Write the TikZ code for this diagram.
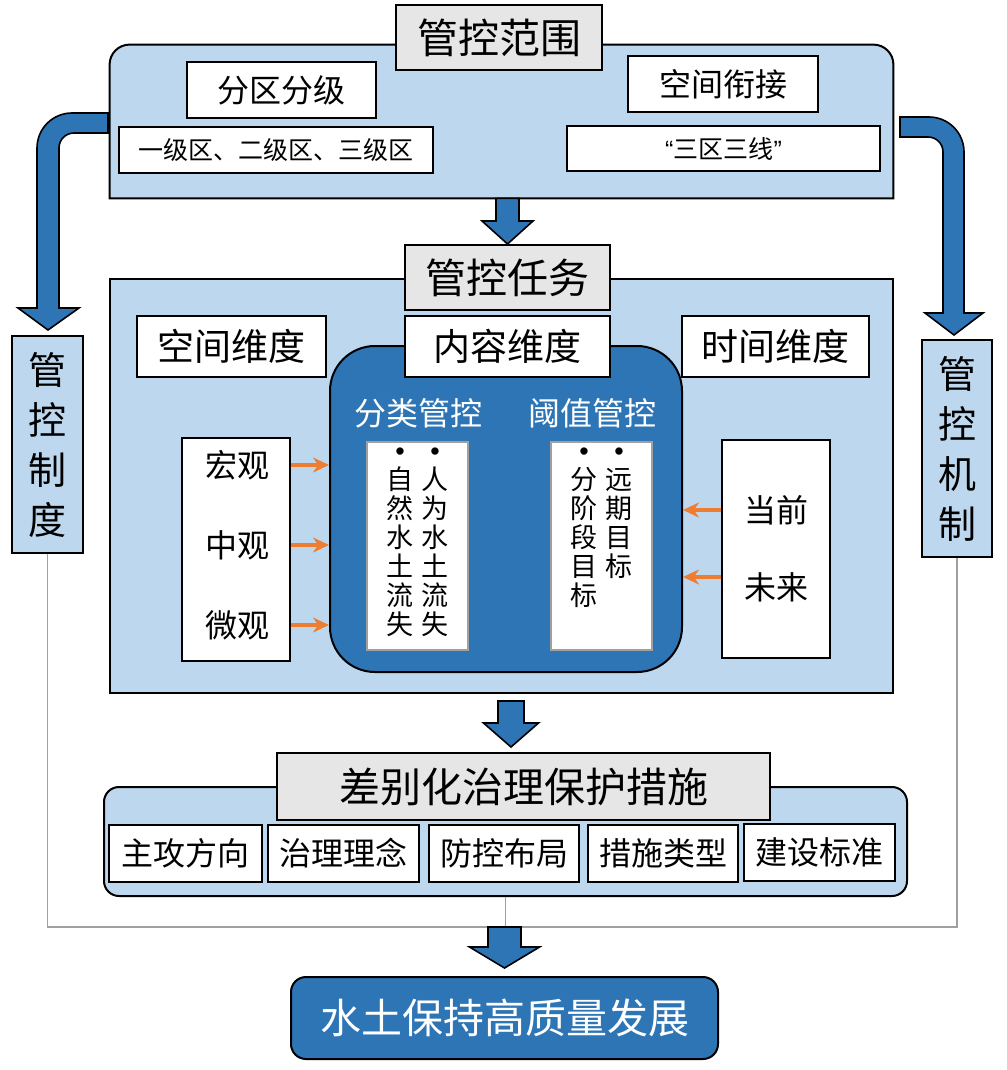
\documentclass[tikz,border=0pt]{standalone}
\usepackage{fontspec}
\setmainfont{Noto Sans CJK SC}
\newfontfamily\quotefont{Liberation Sans}
\usetikzlibrary{calc, arrows.meta}

\definecolor{paleblue}{HTML}{BDD7EE}
\definecolor{deepblue}{HTML}{2E75B6}
\definecolor{titlegray}{HTML}{E7E6E6}
\definecolor{arrowor}{HTML}{ED7D31}
\definecolor{wiregray}{HTML}{A0A0A0}

\tikzset{
	box/.style = {draw, fill = white, line width = 1pt, inner sep = 0pt},
	graybox/.style = {box, fill = titlegray},
	panel/.style = {draw, fill = paleblue, line width = 1pt},
	darkbox/.style = {draw, fill = deepblue, line width = 1pt},
	listbox/.style = {draw = wiregray, fill = white, line width = 1.2pt},
	bigarrow/.style = {draw, fill = deepblue, line width = 0.8pt},
	orarrow/.style = {draw = arrowor, line width = 2pt, -{Stealth[length = 8pt, width = 7.5pt]}},
	wire/.style = {draw = wiregray, line width = 0.8pt},
	titlefont/.style = {font = \fontsize{20.5}{24}\selectfont},
	dimfont/.style = {font = \fontsize{18.5}{22}\selectfont},
	labelfont/.style = {font = \fontsize{16}{19}\selectfont},
	notefont/.style = {font = \fontsize{12.5}{15}\selectfont},
	columnfont/.style = {font = \fontsize{13.5}{14.5}\selectfont, align = center, anchor = north, inner sep = 0pt},
	sidefont/.style = {font = \fontsize{19}{25}\selectfont, align = center}
}

\newcommand{\dotmark}{{\quotefont •}}

% #1 tail, #2 tip, #3 half shaft, #4 half head, #5 head length
\newcommand{\blockarrow}[5]{%
	\draw [bigarrow] let \p1 = #1, \p2 = #2 in (\x2 - #3, \y1) -- (\x2 - #3, \y2 + #5) -- (\x2 - #4, \y2 + #5) -- (\x2, \y2) -- (\x2 + #4, \y2 + #5) -- (\x2 + #3, \y2 + #5) -- (\x2 + #3, \y1) -- cycle;}

\begin{document}
\begin{tikzpicture}[x = 0.5pt, y = -0.5pt]

	\useasboundingbox (0, 0) rectangle (1006, 1070);

	% Control scope panel w zoning and spatial linking

	\node [minimum width = 391.5pt, minimum height = 76.5pt, inner sep = 0pt] (scope) at (501.5, 121.5) {};
	\draw [panel] (scope.south west) -- ($(scope.north west) + (0, 20)$) arc [start angle = 180, end angle = 90, radius = 10pt] -- ($(scope.north east) + (-20, 0)$) arc [start angle = 90, end angle = 0, radius = 10pt] -- (scope.south east) -- cycle;

	\node [graybox, titlefont, minimum width = 103pt, minimum height = 32.5pt] (scopetitle) at (499, 37.5) {管控范围};
	\node [box, labelfont, minimum width = 94.5pt, minimum height = 28pt] (zoning) at (281.5, 90) {分区分级};
	\node [box, notefont, minimum width = 157pt, minimum height = 23pt] (levels) at (276, 150) {一级区、二级区、三级区};
	\node [box, labelfont, minimum width = 95pt, minimum height = 28pt] (linking) at (723, 84) {空间衔接};
	\node [box, notefont, minimum width = 156.5pt, minimum height = 22.5pt] (threezones) at (723.5, 148.5) {{\quotefont “}三区三线{\quotefont ”}};

	% Bent arrows w rule and mechanism boxes

	\draw [bigarrow] (108, 113) -- (72, 113) arc [start angle = 90, end angle = 180, radius = 17.5pt] -- (37, 308) -- (18, 308) -- (48, 330) -- (79, 308) -- (59, 308) -- (59, 148) arc [start angle = 180, end angle = 90, radius = 7.5pt] -- (108, 133) -- cycle;
	\node [panel, sidefont, minimum width = 35.5pt, minimum height = 108.5pt, inner sep = 0pt] (rule) at (47.5, 444.5) {管\\控\\制\\度};

	\draw [bigarrow] (900, 117) -- (929, 117) arc [start angle = 90, end angle = 0, radius = 17.5pt] -- (964, 313) -- (983, 313) -- (954, 335) -- (925, 313) -- (943, 313) -- (943, 152) arc [start angle = 0, end angle = 90, radius = 7.5pt] -- (900, 137) -- cycle;
	\node [panel, sidefont, minimum width = 35pt, minimum height = 108.5pt, inner sep = 0pt] (mech) at (957, 448.5) {管\\控\\机\\制};

	% Control task panel w three dimensions

	\node [panel, minimum width = 391.5pt, minimum height = 207pt] (task) at (501.5, 486) {};
	\node [graybox, titlefont, minimum width = 102.5pt, minimum height = 32.5pt] (tasktitle) at (507.5, 277.5) {管控任务};
	\blockarrow{(scope.south)}{(tasktitle.north)}{5.75pt}{12.75pt}{11.5pt}

	\node [darkbox, rounded corners = 22.5pt, minimum width = 176pt, minimum height = 163pt] (content) at (506, 509) {};
	\node [box, dimfont, minimum width = 94.5pt, minimum height = 30.5pt] (spacedim) at (231.5, 346.5) {空间维度};
	\node [box, dimfont, minimum width = 102.5pt, minimum height = 30.5pt] (contentdim) at (507.5, 346.5) {内容维度};
	\node [box, dimfont, minimum width = 93.5pt, minimum height = 30.5pt] (timedim) at (775.5, 346.5) {时间维度};

	% Content classes

	\node [labelfont, text = white] (classtitle) at (418, 413) {分类管控};
	\node [labelfont, text = white] (threshtitle) at (592, 413) {阈值管控};
	\node [listbox, minimum width = 50.5pt, minimum height = 104pt] (classlist) at (417.5, 546) {};
	\node [listbox, minimum width = 50.5pt, minimum height = 104pt] (threshlist) at (601.5, 546) {};
	\node [columnfont] (natural) at (400, 447) {\dotmark\\自\\然\\水\\土\\流\\失};
	\node [columnfont] (human) at (435, 447) {\dotmark\\人\\为\\水\\土\\流\\失};
	\node [columnfont] (staged) at (584, 447) {\dotmark\\分\\阶\\段\\目\\标};
	\node [columnfont] (longterm) at (619, 447) {\dotmark\\远\\期\\目\\标};

	% Spatial and temporal scales w arrows

	\node [box, minimum width = 54pt, minimum height = 111.5pt] (spacebox) at (236, 549.5) {};
	\node [labelfont] (macro) at (237, 465) {宏观};
	\node [labelfont] (meso) at (237, 545) {中观};
	\node [labelfont] (micro) at (237, 625) {微观};
	\foreach \s in {macro, meso, micro}
		\draw [orarrow] (spacebox.east |- \s) -- (content.west |- \s);

	\node [box, minimum width = 54pt, minimum height = 109pt] (timebox) at (776, 549) {};
	\node [labelfont] (now) at (776, 510) {当前};
	\node [labelfont] (future) at (776, 587) {未来};
	\draw [orarrow] (timebox.west |- now) -- (content.east |- now);
	\draw [orarrow] ([yshift = 5pt] timebox.west |- future) -- ([yshift = 5pt] content.east |- future);

	% Differentiated measures

	\coordinate (midtail) at (511, 701);
	\coordinate (midtip) at (511, 747);
	\blockarrow{(midtail)}{(midtip)}{6.5pt}{13.75pt}{12pt}

	\node [panel, rounded corners = 7.5pt, minimum width = 401.5pt, minimum height = 54.5pt] (measures) at (505.5, 841.5) {};
	\node [graybox, titlefont, minimum width = 246.5pt, minimum height = 33.5pt] (measuretitle) at (523.5, 786.5) {差别化治理保护措施};
	\node [box, labelfont, minimum width = 76.5pt, minimum height = 28.5pt] (focus) at (185.5, 853.5) {主攻方向};
	\node [box, labelfont, minimum width = 75.5pt, minimum height = 28.5pt] (concept) at (343.5, 853.5) {治理理念};
	\node [box, labelfont, minimum width = 75pt, minimum height = 28.5pt] (layout) at (504, 853.5) {防控布局};
	\node [box, labelfont, minimum width = 75pt, minimum height = 28.5pt] (types) at (663, 853.5) {措施类型};
	\node [box, labelfont, minimum width = 75.5pt, minimum height = 28.5pt] (standard) at (819, 852) {建设标准};

	% Wires joining rule, mechanism and measures

	\coordinate (junction) at (505.5, 927);
	\draw [wire] (rule.south) -- (rule.south |- junction) -- (mech.south |- junction) -- (mech.south);
	\draw [wire] (measures.south) -- (junction);

	% Goal

	\node [darkbox, rounded corners = 7.5pt, titlefont, text = white, minimum width = 213.5pt, minimum height = 41pt] (goal) at (504.5, 1018) {水土保持高质量发展};
	\blockarrow{(junction)}{($(goal.north) + (0, -8)$)}{8.25pt}{17.5pt}{10.5pt}

\end{tikzpicture}
\end{document}
